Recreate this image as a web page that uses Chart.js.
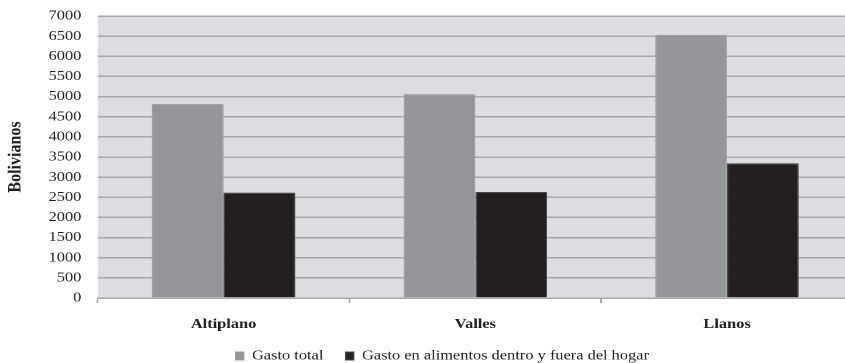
<!DOCTYPE html>
<html>
<head>
<meta charset="utf-8">
<script src="https://cdn.jsdelivr.net/npm/chart.js@4/dist/chart.umd.min.js"></script>
<style>
  html, body { margin: 0; padding: 0; background: #ffffff; overflow: hidden; }
  #wrap { width: 845px; height: 363px; overflow: hidden; position: relative; }
  /* the chart is laid out narrow and widened horizontally */
  #chart { position: absolute; left: 0; top: 0; transform-origin: 0 0; transform: scaleX(1.17); }
</style>
</head>
<body>
<div id="wrap"><canvas id="chart" width="735" height="363"></canvas></div>
<script>
// Regions
const categories = ['Altiplano', 'Valles', 'Llanos'];
// Monthly household spending (Bolivianos)
const gastoTotal = [4820, 5060, 6530];
const gastoAlimentos = [2615, 2630, 3345];
const seriesNames = ['Gasto total', 'Gasto en alimentos dentro y fuera del hogar'];
const yTitle = 'Bolivianos';
const yMin = 0, yMax = 7000, yStep = 500;

const FONT = "'Liberation Serif', 'Times New Roman', serif";
const INK = '#231f20';

// light grey panel behind the plotting area
const panelFill = {
  id: 'panelFill',
  beforeDraw(chart) {
    const { ctx, chartArea: a } = chart;
    ctx.save();
    ctx.fillStyle = '#dcdde0';
    ctx.fillRect(a.left, a.top, a.right - a.left, a.bottom - a.top);
    ctx.restore();
  }
};

// place the legend row under the category labels
const LEGEND_DX = 11.5, LEGEND_TOP = 330;
const legendNudge = {
  id: 'legendNudge',
  afterLayout(chart) {
    const lg = chart.legend;
    if (!lg) return;
    lg.left += LEGEND_DX; lg.right += LEGEND_DX;
    lg.top = LEGEND_TOP; lg.bottom = chart.height;
  }
};

new Chart(document.getElementById('chart'), {
  type: 'bar',
  data: {
    labels: categories,
    datasets: [
      { label: seriesNames[0], data: gastoTotal, backgroundColor: '#949599', borderColor: '#9fa0a3', borderWidth: 1 },
      { label: seriesNames[1], data: gastoAlimentos, backgroundColor: '#231f20', borderColor: '#4a4748', borderWidth: 1 }
    ]
  },
  options: {
    responsive: false,
    animation: false,
    devicePixelRatio: 2,
    layout: { padding: { top: 16, left: 4, right: 6, bottom: 0 } },
    datasets: { bar: { categoryPercentage: 0.57, barPercentage: 1.0 } },
    plugins: {
      tooltip: { enabled: false },
      legend: {
        position: 'bottom',
        maxHeight: 30,
        labels: {
          boxWidth: 7, boxHeight: 8, padding: 19,
          color: INK,
          font: { family: FONT, size: 14 }
        }
      }
    },
    scales: {
      x: {
        afterFit(scale) { scale.height = 35; scale.paddingLeft = 0; scale.paddingRight = 0; },
        grid: { drawOnChartArea: false, drawTicks: true, tickLength: 5, color: '#a6a7aa', lineWidth: 1.5 },
        border: { display: true, color: '#a6a7aa', width: 1.5 },
        ticks: { color: INK, padding: 13, font: { family: FONT, size: 14, weight: 'bold' } }
      },
      y: {
        min: yMin, max: yMax,
        afterFit(scale) { scale.width = 79.5; scale.paddingTop = 0; scale.paddingBottom = 0; },
        grid: { color: '#a6a7aa', lineWidth: 1.5, drawTicks: false },
        border: { display: false },
        ticks: {
          stepSize: yStep, maxTicksLimit: 20, color: INK, padding: 14,
          font: { family: FONT, size: 14 },
          callback: (v) => String(v)
        },
        title: { display: true, text: yTitle, color: INK, padding: { top: 0, bottom: 0 }, font: { family: FONT, size: 16, weight: 'bold' } }
      }
    }
  },
  plugins: [panelFill, legendNudge]
});
</script>
</body>
</html>
